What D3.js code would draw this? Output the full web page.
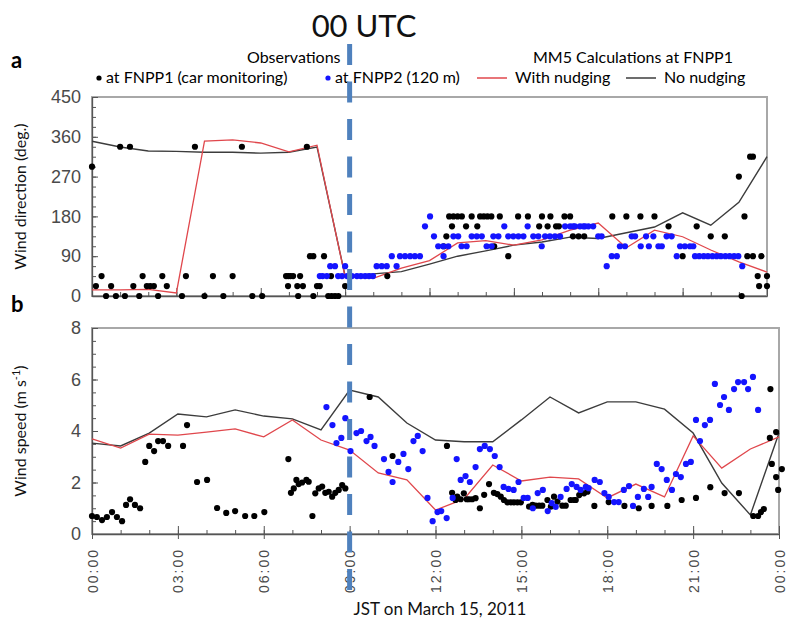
<!DOCTYPE html>
<html>
<head>
<meta charset="utf-8">
<script src="https://cdn.jsdelivr.net/npm/d3@7"></script>
<style>
  body { margin: 0; background: #fff; }
  svg { display: block; font-family: Lato, "Open Sans", sans-serif; }
  .tick text { font-family: "Liberation Sans", Arial, sans-serif; fill: #4a4a4a; }
</style>
</head>
<body>
<div id="chart"></div>
<script>
// model output, hourly (JST 00:00 .. 24:00)
var modelHours = d3.range(0, 25);
var dirNudging = [14, 14, 15, 7, 350, 353, 346, 326, 341, 43, 40, 63, 80, 120, 125, 115, 127, 149, 165, 109, 149, 134, 104, 77, 54];
var dirNoNudging = [350, 337, 328, 327, 325, 325, 323, 325, 337, 45, 50, 55, 72, 90, 102, 115, 122, 133, 130, 143, 156, 188, 160, 212, 315];
var speedNudging = [3.69, 3.34, 3.88, 3.84, 3.96, 4.08, 3.77, 4.43, 3.65, 3.26, 2.37, 2.10, 0.93, 1.36, 2.68, 2.06, 2.21, 2.14, 1.40, 1.94, 1.44, 3.81, 2.56, 3.30, 3.77];
var speedNoNudging = [3.53, 3.42, 3.92, 4.66, 4.55, 4.82, 4.58, 4.47, 4.04, 5.59, 5.32, 4.31, 3.65, 3.58, 3.58, 4.43, 5.32, 4.70, 5.13, 5.13, 4.85, 3.92, 1.98, 0.74, 3.92];

// observations [hour, value]
var fnpp1Dir = [
  [0, 292.5], [1.0, 337.5], [1.35, 337.5], [3.66, 337.5], [5.33, 337.5], [7.64, 337.5],
  [0.34, 45], [1.8, 45], [2.5, 45], [3.34, 45], [4.3, 45], [5.0, 45], [6.9, 45], [6.98, 45], [7.06, 45], [7.15, 45], [7.4, 45], [8.5, 45],
  [0.14, 22.5], [0.68, 22.5], [1.47, 22.5], [1.95, 22.5], [2.07, 22.5], [2.2, 22.5], [2.66, 22.5], [6.97, 22.5], [7.3, 22.5], [7.5, 22.5], [8.0, 22.5], [8.1, 22.5], [9.0, 22.5],
  [0.5, 0], [0.85, 0], [1.17, 0], [1.68, 0], [2.35, 0], [3.2, 0], [4.0, 0], [4.67, 0], [5.7, 0], [6.05, 0], [7.33, 0], [7.87, 0], [8.4, 0], [8.52, 0], [8.64, 0], [8.76, 0],
  [7.75, 90], [7.87, 90], [8.25, 90], [10.5, 45],
  [12.5, 112.5], [14.3, 112.5], [12.6, 135], [17.1, 135], [17.3, 135], [17.5, 135],
  [12.8, 157.5], [13.3, 157.5], [13.7, 157.5], [15.9, 157.5], [16.2, 157.5], [16.5, 157.5], [16.6, 157.5],
  [12.7, 180], [12.85, 180], [13.0, 180], [13.15, 180], [13.5, 180], [13.8, 180], [13.93, 180], [14.06, 180], [14.2, 180], [14.5, 180],
  [15.15, 180], [15.5, 180], [16.0, 180], [16.3, 180], [16.8, 180], [17.0, 180], [14.8, 90],
  [18.5, 180], [19.0, 180], [19.5, 180], [20.0, 180], [20.5, 157.5], [21.5, 157.5], [22.0, 135], [22.5, 135],
  [21.0, 90], [23.3, 90], [23.5, 90], [23.8, 90], [23.67, 45], [24.0, 45], [23.72, 22.5], [24.0, 22.5],
  [23.1, 0], [23.2, 180], [23.0, 270], [23.4, 315], [23.5, 315]
];
var fnpp2Dir = [
  [8.47, 67.5], [8.64, 67.5], [9.0, 67.5], [8.1, 45], [8.2, 45], [8.35, 45], [8.75, 45],
  [8.89, 45], [9.07, 45], [9.24, 45], [9.42, 45], [9.56, 45], [9.71, 45], [9.85, 45], [9.99, 45],
  [10.12, 67.5], [10.3, 67.5], [10.48, 67.5], [10.83, 67.5],
  [10.66, 90], [10.95, 90], [11.13, 90], [11.31, 90], [11.48, 90], [11.66, 90], [12.5, 90],
  [12.31, 112.5], [12.49, 112.5], [12.67, 112.5], [13.14, 112.5], [13.32, 112.5], [14.03, 112.5], [14.21, 112.5], [15.99, 112.5],
  [12.16, 135], [12.85, 135], [13.02, 135], [13.5, 135], [13.68, 135], [13.86, 135], [14.27, 135], [14.45, 135],
  [14.8, 135], [14.98, 135], [15.16, 135], [15.34, 135], [15.69, 135], [15.87, 135], [16.11, 135], [16.28, 135], [16.46, 135], [16.64, 135],
  [11.84, 157.5], [14.66, 157.5], [15.49, 157.5], [16.82, 157.5], [17.0, 157.5], [17.17, 157.5], [17.35, 157.5], [17.53, 157.5],
  [12.02, 180],
  [17.11, 157.5], [17.47, 157.5], [17.65, 157.5], [17.82, 157.5],
  [18.0, 135], [18.12, 135], [19.19, 135], [19.31, 135], [19.7, 135], [19.96, 135], [20.43, 135], [20.61, 135],
  [18.77, 112.5], [18.95, 112.5], [19.51, 112.5], [19.8, 112.5], [20.14, 112.5], [20.26, 112.5], [20.91, 112.5], [21.08, 112.5], [21.26, 112.5], [21.38, 112.5],
  [18.48, 90], [18.66, 90], [20.79, 90], [21.44, 90], [21.59, 90], [21.75, 90], [21.9, 90], [22.06, 90], [22.21, 90], [22.36, 90], [22.52, 90], [22.67, 90], [22.83, 90], [22.98, 90],
  [18.3, 67.5], [23.12, 67.5]
];
var fnpp1Speed = [
  [0, 0.7], [0.17, 0.66], [0.35, 0.54], [0.52, 0.66], [0.7, 0.85], [0.87, 0.66], [1.05, 0.5], [1.19, 1.13], [1.33, 1.35], [1.5, 1.13], [1.68, 1.0],
  [1.86, 2.8], [2.0, 3.42], [2.17, 3.22], [2.31, 3.61], [2.48, 3.61], [2.66, 3.42], [3.18, 3.42], [3.32, 4.23], [3.67, 2.02], [4.02, 2.1],
  [4.37, 1.01], [4.69, 0.82], [5.0, 0.89], [5.35, 0.7], [5.67, 0.7], [6.02, 0.85], [6.86, 2.91],
  [6.95, 1.6], [7.05, 1.77], [7.14, 2.1], [7.22, 1.94], [7.34, 2.0], [7.49, 2.1], [7.57, 2.03], [7.7, 0.7],
  [7.8, 1.58], [7.92, 1.77], [8.04, 1.84], [8.15, 1.6], [8.27, 1.64], [8.39, 1.45], [8.5, 1.6], [8.62, 1.71], [8.74, 1.9], [8.85, 1.77],
  [9.7, 5.32], [10.5, 3.03], [12.4, 3.42],
  [12.58, 1.6], [12.7, 1.32], [12.76, 1.45], [12.88, 1.35], [12.99, 1.58], [13.09, 1.35], [13.17, 1.35], [13.28, 1.35], [13.4, 1.39],
  [13.55, 1.0], [13.7, 1.52], [13.87, 1.94],
  [14.04, 1.6], [14.16, 1.55], [14.28, 1.45], [14.39, 1.32], [14.51, 1.23], [14.63, 1.23], [14.74, 1.23], [14.86, 1.23], [14.98, 1.23],
  [15.27, 1.06], [15.39, 1.13], [15.5, 1.1], [15.62, 1.1], [15.73, 1.1], [15.91, 1.32], [16.03, 1.06], [16.14, 1.45], [16.26, 1.26],
  [16.43, 1.1], [16.55, 1.1], [16.72, 1.32], [16.84, 1.32], [16.9, 1.32], [17.02, 1.51], [17.19, 1.58], [17.31, 1.64],
  [17.55, 1.09], [18.05, 1.24], [18.6, 1.09], [19.1, 1.0], [19.55, 1.09], [20.1, 1.09], [20.6, 1.32], [21.1, 1.4], [21.6, 1.82],
  [22.1, 1.59], [22.6, 1.59], [23.1, 0.7], [23.27, 0.7], [23.37, 0.85], [23.47, 0.97],
  [23.7, 5.63], [23.68, 3.73], [23.9, 3.96], [23.75, 2.72], [23.9, 2.21], [23.97, 1.71], [24.1, 2.52]
];
var fnpp2Speed = [
  [8.19, 4.93], [8.4, 4.23], [8.54, 3.53], [8.71, 3.73], [8.85, 4.5], [9.03, 3.22], [9.24, 3.92], [9.4, 4.0], [9.59, 3.61], [9.73, 3.77],
  [9.87, 3.42], [10.2, 2.91], [10.36, 2.41], [10.5, 2.02], [10.7, 2.8], [10.88, 3.11], [11.05, 2.52], [11.23, 3.61], [11.38, 3.81],
  [11.55, 3.22], [11.72, 1.4], [11.9, 0.5], [12.07, 0.85], [12.2, 0.89], [12.39, 0.62], [12.6, 1.4], [12.74, 2.91], [12.88, 2.1],
  [13.05, 2.25], [13.2, 2.02], [13.4, 2.6], [13.55, 3.3], [13.72, 3.42], [13.9, 3.3], [14.07, 3.03], [14.24, 2.6], [14.38, 1.83],
  [14.55, 1.75], [14.73, 1.71], [14.9, 2.02], [15.08, 1.4], [15.22, 1.4], [15.4, 1.0], [15.57, 1.59], [15.75, 1.71], [15.92, 0.89],
  [16.06, 1.2], [16.2, 1.05], [16.37, 1.44], [16.58, 1.75], [16.76, 1.94], [16.93, 1.83], [17.07, 1.71], [17.25, 1.83], [17.35, 1.78],
  [17.56, 2.1], [17.74, 2.02], [17.9, 1.59], [18.05, 1.44], [18.24, 1.24], [18.4, 1.24], [18.58, 1.71], [18.76, 1.86], [18.9, 1.09],
  [19.07, 1.44], [19.28, 1.75], [19.43, 1.44], [19.55, 1.83], [19.73, 2.72], [19.9, 2.52], [20.08, 2.1], [20.26, 1.71], [20.4, 2.33],
  [20.57, 2.21], [20.75, 2.72], [20.92, 2.8], [21.1, 4.43], [21.24, 3.61], [21.41, 4.23], [21.59, 4.43], [21.76, 5.83], [21.94, 5.01],
  [22.08, 5.32], [22.25, 4.82], [22.43, 5.63], [22.57, 5.9], [22.78, 5.9], [22.92, 5.63], [23.09, 6.1], [23.27, 4.82]
];

var timeLabels = ["00:00", "03:00", "06:00", "09:00", "12:00", "15:00", "18:00", "21:00", "00:00"];
var dirTicks = [0, 90, 180, 270, 360, 450];
var speedTicks = [0, 2, 4, 6, 8];
var utcHour = 9;

var width = 787, height = 624;
var svg = d3.select('#chart').append('svg')
    .attr('width', width)
    .attr('height', height);

var panels = [
  { key: 'a', x0: 92, x1: 767, y0: 97, y1: 296, domain: [0, 450], ticks: dirTicks, minor: 22.5,
    nudge: dirNudging, noNudge: dirNoNudging, obs1: fnpp1Dir, obs2: fnpp2Dir },
  { key: 'b', x0: 92, x1: 779, y0: 328, y1: 534, domain: [0, 8], ticks: speedTicks, minor: 0.5,
    nudge: speedNudging, noNudge: speedNoNudging, obs1: fnpp1Speed, obs2: fnpp2Speed }
];

panels.forEach(function(p, pi) {
    var x = d3.scaleLinear().domain([0, 24]).range([p.x0, p.x1]);
    var y = d3.scaleLinear().domain(p.domain).range([p.y1, p.y0]);
    p.x = x; p.y = y;
    var g = svg.append('g');

    // frame
    g.append('rect')
        .attr('x', p.x0).attr('y', p.y0)
        .attr('width', p.x1 - p.x0).attr('height', p.y1 - p.y0)
        .attr('fill', 'none').attr('stroke', '#a8a8a8').attr('stroke-width', 2);

    // y axis, minor then major
    g.append('g')
        .attr('transform', 'translate(' + p.x0 + ',0)')
        .call(d3.axisLeft(y).tickValues(d3.range(p.domain[0], p.domain[1] + 0.001, p.minor)).tickSize(-4).tickFormat(''))
        .call(function(a) { a.select('.domain').remove(); a.selectAll('line').attr('stroke', '#555'); });
    g.append('g')
        .attr('transform', 'translate(' + p.x0 + ',0)')
        .call(d3.axisLeft(y).tickValues(p.ticks).tickSizeInner(-6).tickSizeOuter(0).tickPadding(11))
        .call(function(a) {
            a.select('.domain').attr('stroke', '#555').attr('stroke-width', 1.3);
            a.selectAll('line').attr('stroke', '#555');
            a.selectAll('text').style('font-size', '18px');
        });

    // x axis
    g.append('g')
        .attr('transform', 'translate(0,' + p.y1 + ')')
        .call(d3.axisBottom(x).tickValues(d3.range(0, 25)).tickSize(-4).tickFormat(''))
        .call(function(a) { a.select('.domain').remove(); a.selectAll('line').attr('stroke', '#555'); });
    g.append('g')
        .attr('transform', 'translate(0,' + p.y1 + ')')
        .call(d3.axisBottom(x).tickValues(d3.range(0, 25, 3)).tickSizeOuter(0)
            .tickFormat(function(d, i) { return pi == 1 ? timeLabels[i] : ''; }))
        .call(function(a) {
            a.select('.domain').attr('stroke', '#555').attr('stroke-width', 1.3);
            a.selectAll('line').attr('stroke', '#555').attr('y1', pi == 1 ? 5 : 0).attr('y2', -8);
            a.selectAll('text')
                .attr('transform', 'rotate(-90)')
                .attr('x', -14).attr('y', 0).attr('dy', '0.36em')
                .attr('text-anchor', 'end')
                .style('font-size', '14px')
                .style('letter-spacing', '2px');
        });

    var line = d3.line()
        .x(function(d, i) { return x(modelHours[i]); })
        .y(function(d) { return y(d); });

    g.append('path').datum(p.noNudge)
        .attr('d', line).attr('fill', 'none')
        .attr('stroke', '#3c3c3c').attr('stroke-width', 1.4);
    g.append('path').datum(p.nudge)
        .attr('d', line).attr('fill', 'none')
        .attr('stroke', '#e0474c').attr('stroke-width', 1.3);

    g.selectAll('.obs1').data(p.obs1).enter().append('circle')
        .attr('class', 'obs1')
        .attr('cx', function(d) { return x(d[0]); })
        .attr('cy', function(d) { return y(d[1]); })
        .attr('r', 3.1)
        .attr('fill', '#000');
    g.selectAll('.obs2').data(p.obs2).enter().append('circle')
        .attr('class', 'obs2')
        .attr('cx', function(d) { return x(d[0]); })
        .attr('cy', function(d) { return y(d[1]); })
        .attr('r', 3.1)
        .attr('fill', '#1414ff');

    // panel letter
    g.append('text')
        .attr('x', 11).attr('y', pi == 0 ? 68 : 312)
        .style('font-size', '22px').style('font-weight', 'bold')
        .text(p.key);
});

// y titles
svg.append('text')
    .attr('transform', 'translate(26,' + ((97 + 296) / 2) + ') rotate(-90)')
    .attr('text-anchor', 'middle')
    .style('font-size', '16px').attr('fill', '#111')
    .text('Wind direction (deg.)');
var st = svg.append('text')
    .attr('transform', 'translate(26,' + ((328 + 534) / 2) + ') rotate(-90)')
    .attr('text-anchor', 'middle')
    .style('font-size', '16px').attr('fill', '#111');
st.append('tspan').text('Wind speed (m s');
st.append('tspan').attr('dy', -6).style('font-size', '11px').text('-1');
st.append('tspan').attr('dy', 6).text(')');

// x title
svg.append('text')
    .attr('x', 440).attr('y', 615)
    .attr('text-anchor', 'middle')
    .style('font-size', '17px').attr('fill', '#111')
    .text('JST on March 15, 2011');

// legend
var legendHead = [
  { text: 'Observations', x: 247 },
  { text: 'MM5 Calculations at FNPP1', x: 533 }
];
var legendItems = [
  { text: 'at FNPP1 (car monitoring)', x: 106, mark: 'dot', color: '#000' },
  { text: 'at FNPP2 (120 m)', x: 335, mark: 'dot', color: '#1414ff' },
  { text: 'With nudging', x: 515, mark: 'line', color: '#e0474c' },
  { text: 'No nudging', x: 664, mark: 'line', color: '#3c3c3c' }
];
var lg = svg.append('g').style('font-size', '16px').attr('fill', '#000');
lg.selectAll('.head').data(legendHead).enter().append('text')
    .attr('x', function(d) { return d.x; }).attr('y', 63)
    .text(function(d) { return d.text; });
legendItems.forEach(function(d) {
    if (d.mark == 'dot') {
        lg.append('circle').attr('cx', d.x - 7).attr('cy', 78).attr('r', 2.6).attr('fill', d.color);
    } else {
        lg.append('line').attr('x1', d.x - 38).attr('x2', d.x - 8).attr('y1', 78).attr('y2', 78)
            .attr('stroke', d.color).attr('stroke-width', 1.5);
    }
    lg.append('text').attr('x', d.x).attr('y', 83).text(d.text);
});

// 00 UTC marker
var xb = panels[1].x;
svg.append('text')
    .attr('x', 364).attr('y', 37)
    .attr('text-anchor', 'middle')
    .style('font-size', '31px').attr('fill', '#111')
    .text('00 UTC');
svg.append('line')
    .attr('x1', xb(utcHour)).attr('x2', xb(utcHour))
    .attr('y1', 44).attr('y2', 592)
    .attr('stroke', '#4f81bd').attr('stroke-width', 5)
    .attr('stroke-dasharray', '21,16.5');
</script>
</body>
</html>
